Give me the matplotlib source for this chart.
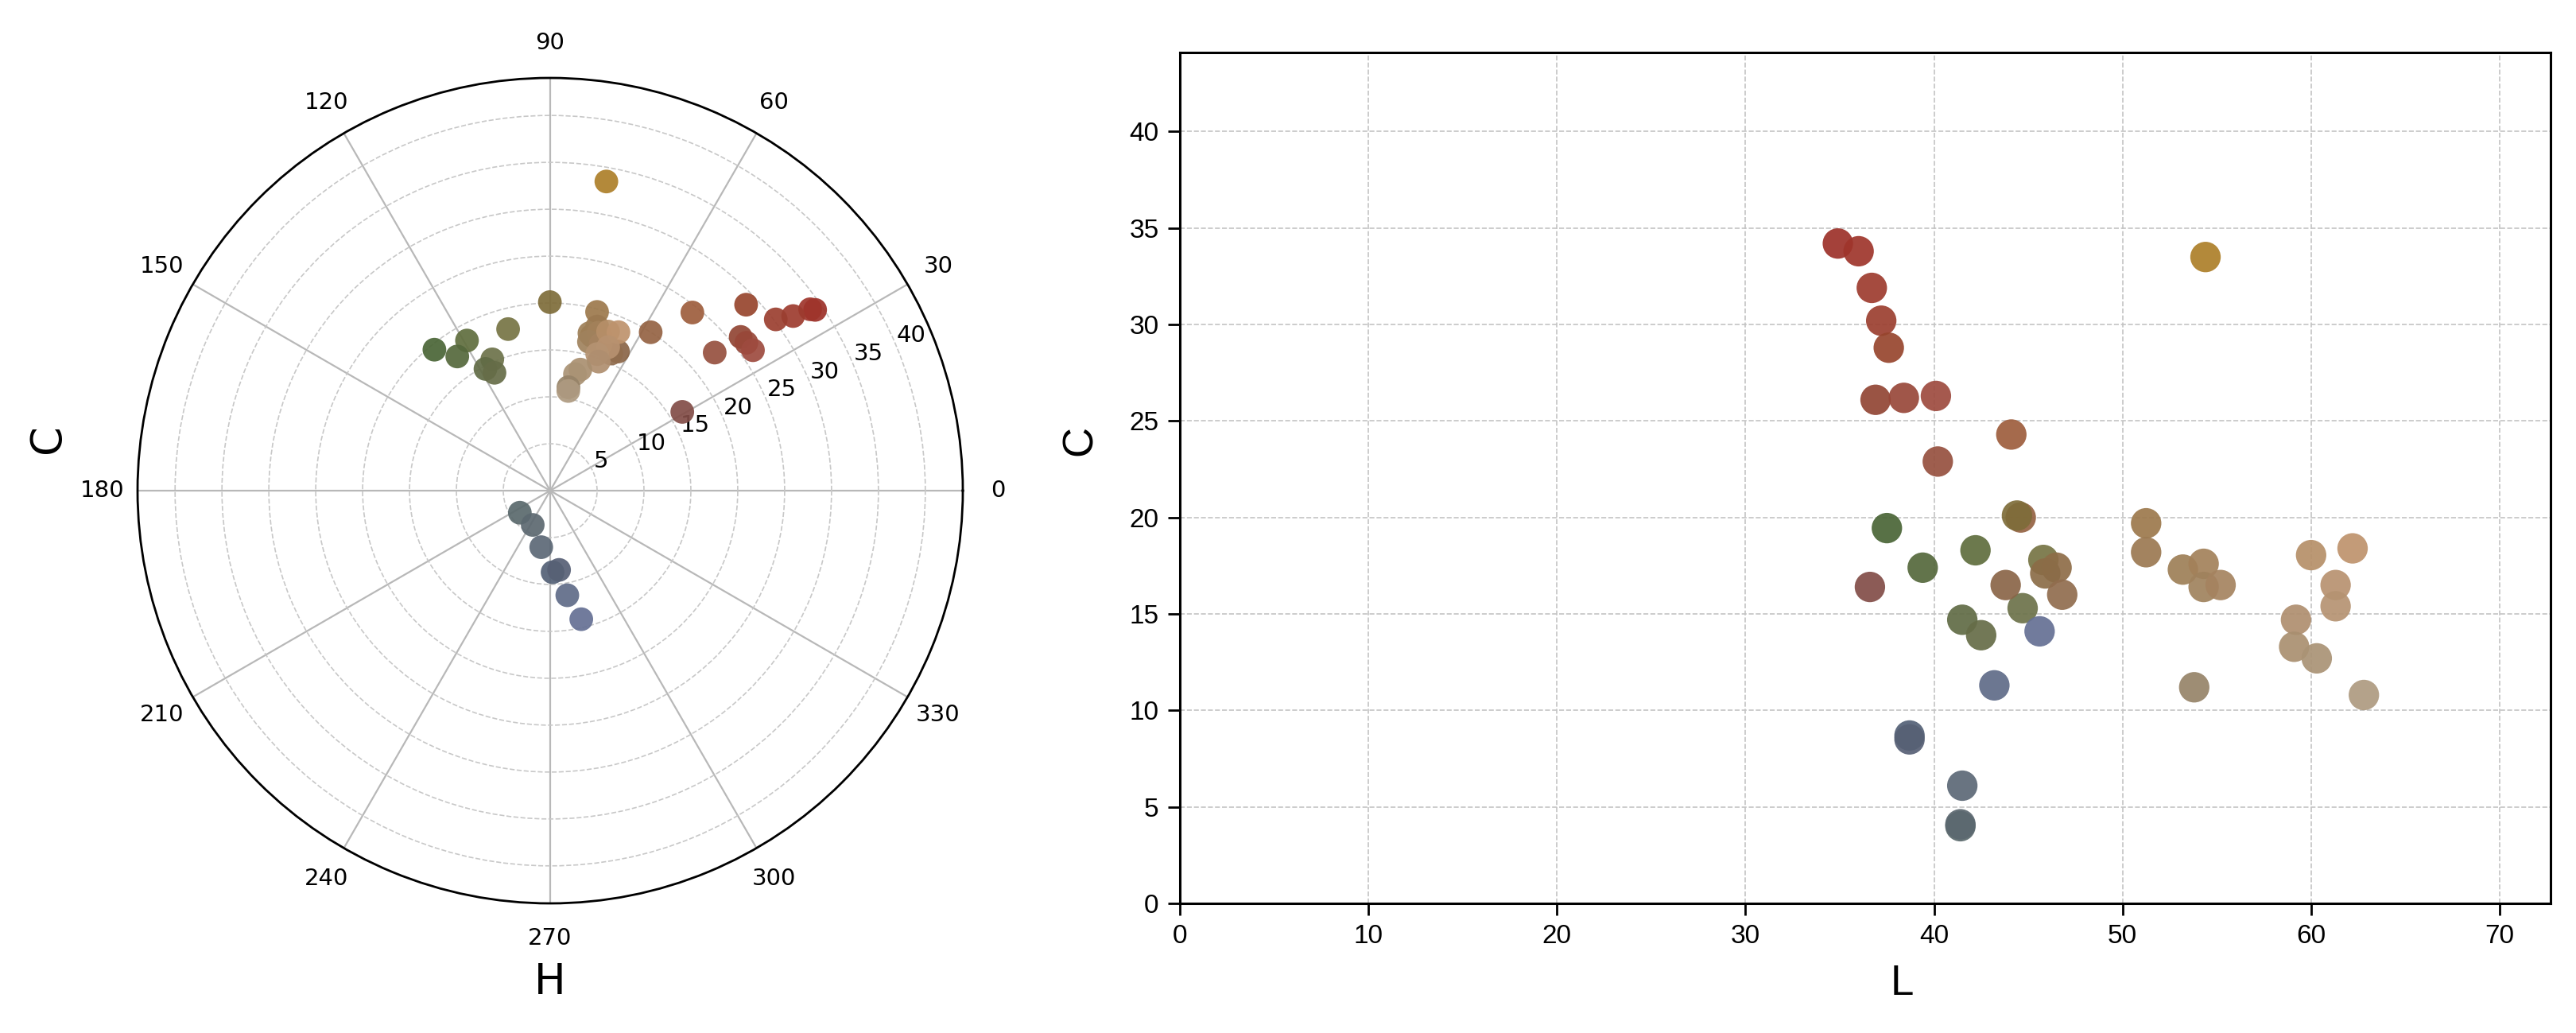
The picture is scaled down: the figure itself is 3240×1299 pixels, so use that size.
import numpy as np
import matplotlib

matplotlib.use("Agg")
import matplotlib.pyplot as plt


# CIE LCh values of the samples (same order in every list)
LIGHTNESS = [
    34.9, 36.0, 36.7, 37.2, 37.6, 36.9, 38.4, 40.1, 44.1, 40.2, 36.6, 44.6, 44.4,
    37.5, 42.2, 39.4, 45.8, 44.7, 41.5, 42.5,
    41.4, 41.4, 41.5, 38.7, 38.7, 43.2, 45.6,
    43.8, 46.5, 45.9, 46.8, 51.25, 51.25, 53.2, 54.3, 54.3, 55.2,
    60.0, 62.2, 61.3, 61.3, 59.2, 59.1, 60.3, 53.8, 62.8, 54.4,
]
CHROMA = [
    34.2, 33.8, 31.9, 30.2, 28.8, 26.1, 26.2, 26.3, 24.3, 22.9, 16.4, 20.0, 20.1,
    19.45, 18.3, 17.4, 17.8, 15.3, 14.7, 13.9,
    4.0, 4.1, 6.1, 8.7, 8.5, 11.3, 14.1,
    16.5, 17.4, 17.1, 16.0, 19.7, 18.2, 17.3, 17.6, 16.4, 16.5,
    18.05, 18.4, 16.5, 15.4, 14.7, 13.3, 12.7, 11.2, 10.8, 33.5,
]
HUE = [
    34.3, 34.9, 35.7, 37.2, 43.5, 38.9, 37.0, 34.7, 51.4, 40.0, 30.8, 57.6, 90.1,
    129.4, 119.0, 124.7, 104.6, 113.8, 118.0, 115.3,
    216.0, 243.0, 261.0, 271.7, 276.4, 279.3, 283.6,
    64.0, 72.0, 75.0, 66.0, 75.3, 74.0, 76.0, 73.0, 75.4, 71.0,
    70.0, 66.7, 68.0, 71.0, 69.4, 76.0, 78.0, 80.0, 79.7, 79.7,
]

THETA_TICKS = list(range(0, 360, 30))
R_TICKS = [5, 10, 15, 20, 25, 30, 35, 40]
L_TICKS = [0, 10, 20, 30, 40, 50, 60, 70]
C_TICKS = [0, 5, 10, 15, 20, 25, 30, 35, 40]

# the rendered swatches are more saturated than the LCh numbers suggest
CHROMA_GAIN = 1.55
LIGHT_OFFSET = 2.0


def lch_to_rgb(lightness, chroma, hue):
    l = np.asarray(lightness, dtype=float) + LIGHT_OFFSET
    c = np.asarray(chroma, dtype=float) * CHROMA_GAIN
    h = np.deg2rad(np.asarray(hue, dtype=float))
    a = c * np.cos(h)
    b = c * np.sin(h)
    fy = (l + 16.0) / 116.0
    fx = fy + a / 500.0
    fz = fy - b / 200.0

    def finv(t):
        d = 6.0 / 29.0
        return np.where(t > d, t ** 3, 3 * d * d * (t - 4.0 / 29.0))

    xyz = np.stack([0.95047 * finv(fx), finv(fy), 1.08883 * finv(fz)], axis=1)
    m = np.array([
        [3.2406, -1.5372, -0.4986],
        [-0.9689, 1.8758, 0.0415],
        [0.0557, -0.2040, 1.0570],
    ])
    lin = np.clip(xyz @ m.T, 0.0, 1.0)
    srgb = np.where(lin <= 0.0031308, 12.92 * lin, 1.055 * lin ** (1 / 2.4) - 0.055)
    return np.clip(srgb, 0.0, 1.0)


def main() -> None:
    colors = lch_to_rgb(LIGHTNESS, CHROMA, HUE)
    fig = plt.figure(figsize=(16.205, 6.495), dpi=200)

    # hue / chroma wheel
    ax_polar = fig.add_axes([0.05338, 0.12548, 0.32027, 0.79908], projection="polar")
    ax_polar.scatter(np.deg2rad(HUE), CHROMA, c=colors, s=115, alpha=0.92,
                     edgecolors="none", zorder=3)
    ax_polar.set_ylim(0, 44)
    ax_polar.set_rticks(R_TICKS)
    ax_polar.set_rlabel_position(22.5)
    ax_polar.set_thetagrids(THETA_TICKS, labels=[str(t) for t in THETA_TICKS])
    ax_polar.tick_params(labelsize=10.5)
    ax_polar.tick_params(axis="x", pad=5.5)
    ax_polar.xaxis.grid(True, color="#b8b8b8", linestyle="-", linewidth=0.8)
    ax_polar.yaxis.grid(True, color="#c8c8c8", linestyle="--", linewidth=0.6)
    ax_polar.spines["polar"].set_linewidth(1.0)
    ax_polar.set_xlabel("H", fontsize=19)
    ax_polar.xaxis.set_label_coords(0.5, -0.07)
    ax_polar.set_ylabel("C", fontsize=19)
    ax_polar.yaxis.set_label_coords(-0.084, 0.5626)

    # lightness / chroma scatter
    ax = fig.add_axes([0.45788, 0.12548, 0.53193, 0.8237])
    ax.scatter(LIGHTNESS, CHROMA, c=colors, s=190, alpha=0.92, edgecolors="none", zorder=3)
    ax.set_xlim(0, 72.7)
    ax.set_ylim(0, 44.1)
    ax.set_xticks(L_TICKS)
    ax.set_yticks(C_TICKS)
    ax.grid(True, linestyle="--", color="#c4c4c4", linewidth=0.6)
    ax.set_axisbelow(True)
    ax.tick_params(labelsize=12, length=5.5, width=1.0, pad=4,
                   labelfontfamily="Liberation Sans")
    for spine in ax.spines.values():
        spine.set_linewidth(1.1)
    ax.set_xlabel("L", fontsize=19, family="Liberation Sans")
    ax.xaxis.set_label_coords(0.527, -0.071)
    ax.set_ylabel("C", fontsize=19, family="Liberation Sans")
    ax.yaxis.set_label_coords(-0.058, 0.544)

    fig.savefig("out.png", dpi=200)
    plt.close(fig)


if __name__ == "__main__":
    main()
